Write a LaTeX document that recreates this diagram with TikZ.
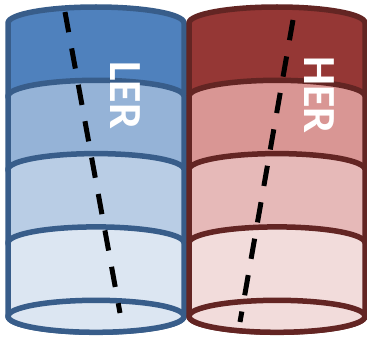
\documentclass[tikz,border=0pt]{standalone}
\usepackage{fontspec}
\setmainfont{Carlito}
% blue stack
\definecolor{lerA}{HTML}{4F81BD}
\definecolor{lerB}{HTML}{95B3D7}
\definecolor{lerC}{HTML}{B9CDE5}
\definecolor{lerD}{HTML}{DCE6F2}
\definecolor{lerline}{HTML}{385D8A}
% red stack
\definecolor{herA}{HTML}{953735}
\definecolor{herB}{HTML}{D99694}
\definecolor{herC}{HTML}{E6B9B8}
\definecolor{herD}{HTML}{F2DCDB}
\definecolor{herline}{HTML}{632523}
\begin{document}
\begin{tikzpicture}[x=1pt,y=1pt,line join=round,line cap=round,
  rim/.style={line width=5.5pt},
  cut/.style={line width=5pt,line cap=butt,dash pattern=on 20.5pt off 16.5pt},
  tag/.style={rotate=-90,text=white,font=\fontsize{46}{46}\selectfont\bfseries}]
	\useasboundingbox (0,0) rectangle (367,338);
	% stacked segments, top one first
	\foreach \c/\d [count=\i from 0] in {lerA/herA,lerB/herB,lerC/herC,lerD/herD} {
		\pgfmathsetmacro\yt{315-73.3*\i}
		\pgfmathsetmacro\yb{\yt-73.3}
		\filldraw[rim,fill=\c,draw=lerline] (8,\yt) arc[start angle=180,end angle=0,x radius=88,y radius=16]
			-- (184,\yb) arc[start angle=0,end angle=-180,x radius=88,y radius=16] -- cycle;
		\filldraw[rim,fill=\d,draw=herline] (189,\yt) arc[start angle=180,end angle=0,x radius=88,y radius=16]
			-- (365,\yb) arc[start angle=0,end angle=-180,x radius=88,y radius=16] -- cycle;
	}
	% bottom faces
	\filldraw[rim,fill=lerD,draw=lerline] (96,21.7) ellipse[x radius=88,y radius=16];
	\filldraw[rim,fill=herD,draw=herline] (277,21.7) ellipse[x radius=88,y radius=16];
	% cutting lines
	\draw[cut] (65,326) -- (120,25);
	\draw[cut] (293,318) -- (240,16);
	\node[tag] (ler) at (125,243) {LER};
	\node[tag] (her) at (319,243) {HER};
\end{tikzpicture}
\end{document}
